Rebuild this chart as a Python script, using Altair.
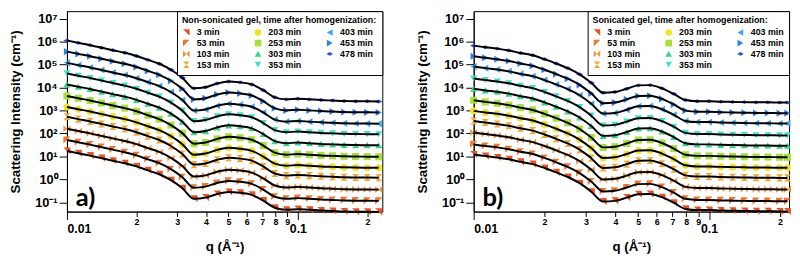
import altair as alt
import pandas as pd

# ---------------- data ----------------
times = ["3 min", "53 min", "103 min", "153 min", "203 min", "253 min",
         "303 min", "353 min", "403 min", "453 min", "478 min"]

q_a = [0.0100, 0.0112, 0.0126, 0.0141, 0.0158, 0.0178, 0.0200, 0.0224, 0.0251,
       0.0282, 0.0316, 0.0355, 0.0398, 0.0447, 0.0501, 0.0562, 0.0631, 0.0708,
       0.0794, 0.0891, 0.1000, 0.1122, 0.1259, 0.1413, 0.1585, 0.1778, 0.1995, 0.2239]
q_b = [0.0100, 0.0112, 0.0126, 0.0141, 0.0158, 0.0178, 0.0200, 0.0224, 0.0251,
       0.0282, 0.0316, 0.0355, 0.0398, 0.0447, 0.0501, 0.0562, 0.0631, 0.0708,
       0.0794, 0.0891, 0.1000, 0.1122, 0.1259, 0.1413, 0.1585, 0.1778, 0.1995, 0.2154]

# curve shape (log10 of intensity relative to the value at q = 0.01)
shape_a = [0.00, -0.10, -0.20, -0.31, -0.42, -0.53, -0.67, -0.84, -1.01, -1.27,
           -1.62, -2.08, -2.03, -1.87, -1.78, -1.82, -1.91, -2.16, -2.47, -2.56,
           -2.53, -2.56, -2.59, -2.61, -2.63, -2.64, -2.645, -2.65]
shape_b = [0.00, -0.07, -0.13, -0.21, -0.32, -0.42, -0.59, -0.78, -0.98, -1.25,
           -1.62, -2.05, -2.02, -1.88, -1.73, -1.72, -1.86, -2.10, -2.37, -2.42,
           -2.42, -2.44, -2.45, -2.46, -2.47, -2.47, -2.48, -2.48]

# log10 intensity of each (vertically shifted) curve at q = 0.01
level_a = [1.23, 1.71, 2.20, 2.72, 3.15, 3.63, 4.13, 4.61, 5.07, 5.56, 6.04]
level_b = [1.08, 1.52, 2.04, 2.54, 2.98, 3.44, 3.94, 4.39, 4.91, 5.36, 5.82]

colors = ["#f0521f", "#f4762a", "#f6922f", "#f5a82c", "#f2e41e", "#a6e232",
          "#33d68a", "#3be6cc", "#3aa6f0", "#2a80ef", "#2a52d6"]
shapes = ["M-1,-1L1,-1L1,1Z",                      # corner triangle
          "M-1,-1L1,-1L-1,1Z",                     # corner triangle
          "M-1,-1L0,0L-1,1ZM1,-1L0,0L1,1Z",        # horizontal bow tie
          "M-1,-1L1,-1L0,0ZM-1,1L1,1L0,0Z",        # hourglass
          "circle", "square", "triangle-up", "triangle-down",
          "triangle-left", "triangle-right",
          "M-1,0L0,-0.55L1,0L0,0.55Z"]             # flat diamond

Y_LO = 10 ** -1.406
Y_HI = 10 ** 7.321
FONT = "Liberation Sans"
FS = "\u2007"


def make_df(q, shape, level):
    rows = []
    for s, lv in zip(times, level):
        for qq, sh in zip(q, shape):
            rows.append({"series": s, "q": qq, "I": 10 ** (lv + sh)})
    return pd.DataFrame(rows)


def panel(df, q_max, legend_title, tag):
    xs = alt.Scale(type="log", domain=[0.01, q_max], nice=False)
    ys = alt.Scale(type="log", domain=[Y_LO, Y_HI], nice=False)
    y_axis = alt.Axis(
        values=[10.0 ** e for e in range(-1, 8)],
        labelExpr="'10' + ['\u207b\u00b9','\u2070','\u00b9','\u00b2','\u00b3','\u2074','\u2075','\u2076','\u2077'][round(log(datum.value)/LN10)+1]",
        title="Scattering Intensity (cm\u207b\u00b9)", grid=False, tickSize=8,
        labelPadding=2, titlePadding=12, labelFontSize=13, titleFontSize=13.5,
        labelOverlap=False)
    x_major = alt.Axis(
        values=[0.01, 0.1], orient="bottom",
        labelExpr="datum.value < 0.05 ? '0.01' : '0.1'",
        tickSize=8, labelPadding=3, labelFontSize=12.5, grid=False,
        title="q (\u00c5\u207b\u00b9)", titlePadding=5, titleFontSize=13.5,
        labelOverlap=False)
    x_minor = alt.Axis(
        values=[0.02, 0.03, 0.04, 0.05, 0.06, 0.07, 0.08, 0.09, 0.2],
        orient="bottom",
        labelExpr="datum.value < 0.1 ? format(datum.value*100, '.0f') : format(datum.value*10, '.0f')",
        tickSize=5, labelPadding=1, labelFontSize=9, domain=False, grid=False,
        title=None, labelOverlap=False, labelFlush=False)
    legend = alt.Legend(
        title=legend_title, orient="top-right", offset=0, columns=3,
        symbolSize=45, symbolStrokeWidth=0, labelFont=FONT, labelFontWeight="bold",
        labelFontSize=9, titleFont=FONT, titleFontWeight="bold", titleFontSize=9,
        titleLimit=400, labelLimit=200,
        padding=5, strokeColor="black", fillColor="white", rowPadding=1,
        columnPadding=24, labelOffset=6, titlePadding=3, labelColor="black",
        titleColor="black",
        labelExpr=f"length(datum.label) < 6 ? '{FS}{FS}' + datum.label : length(datum.label) < 7 ? '{FS}' + datum.label : datum.label")

    base = alt.Chart(df)
    points = base.mark_point(filled=True, size=52, opacity=1).encode(
        x=alt.X("q:Q", scale=xs, axis=x_minor),
        y=alt.Y("I:Q", scale=ys, axis=y_axis),
        color=alt.Color("series:N", scale=alt.Scale(domain=times, range=colors), legend=legend),
        shape=alt.Shape("series:N", scale=alt.Scale(domain=times, range=shapes), legend=legend),
    )
    lines = base.mark_line(color="black", strokeWidth=2, interpolate="monotone").encode(
        x=alt.X("q:Q", scale=xs, axis=x_major),
        y=alt.Y("I:Q", scale=ys, axis=y_axis),
        detail="series:N",
    )
    label = alt.Chart(pd.DataFrame({"t": [tag]})).mark_text(
        align="left", baseline="alphabetic", font="Lato", fontWeight="bold",
        fontSize=26, color="black").encode(
        text="t:N", x=alt.value(9), y=alt.value(198))
    return alt.layer(points, lines, label).resolve_axis(x="independent").properties(
        width=321, height=204)


pa = panel(make_df(q_a, shape_a, level_a), 0.232,
           "Non-sonicated gel, time after homogenization:", "a)")
pb = panel(make_df(q_b, shape_b, level_b), 0.2188,
           "Sonicated gel, time after homogenization:", "b)")

chart = alt.hconcat(pa, pb, spacing=32).resolve_scale(
    color="independent", shape="independent").resolve_legend(
    color="independent", shape="independent").properties(
    padding={"left": 0, "top": 0, "right": 0, "bottom": 0}).configure_view(
    stroke="black", strokeWidth=1).configure_axis(
    domainColor="black", tickColor="black", labelColor="black", titleColor="black",
    labelFont=FONT, titleFont=FONT, labelFontWeight="bold", titleFontWeight="bold",
    domainWidth=1, tickWidth=1)

chart.save("out.html", embed_options={"renderer": "svg", "actions": False})
